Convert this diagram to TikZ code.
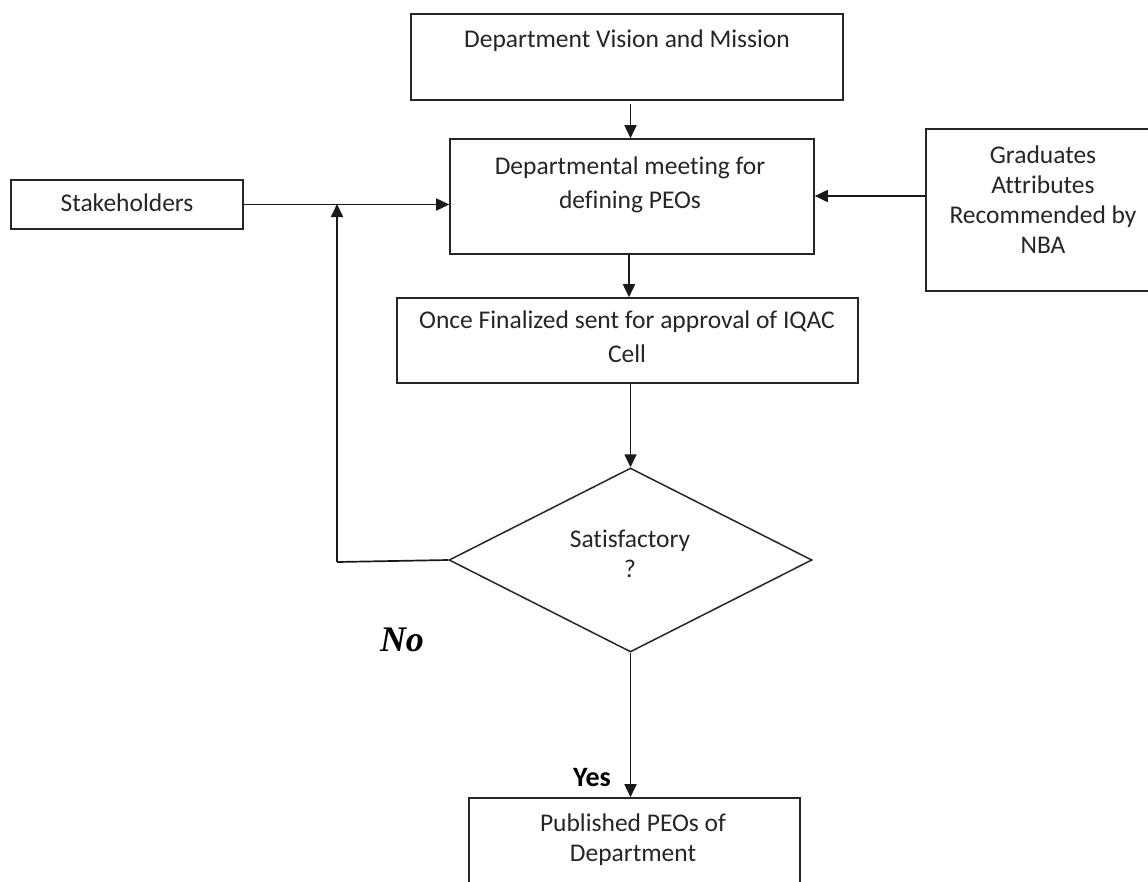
\documentclass[tikz,border=0pt]{standalone}
\usepackage{fontspec}
\setmainfont[Ligatures={NoCommon}]{Carlito}
\newfontfamily\noserif{Liberation Serif}
\usetikzlibrary{arrows.meta,shapes.geometric}
\tikzset{
  box/.style={draw=black!85, line width=1.6pt, rectangle, inner sep=0pt},
  lbl/.style={font=\fontsize{25.5}{30}\selectfont, align=center, text=black!85},
  lblw/.style={font=\fontsize{25.5}{34}\selectfont, align=center, text=black!85},
  conn/.style={line width=1.7pt, draw=black!90, -{Triangle[length=13pt,width=12pt]}},
  plain/.style={line width=1.7pt, draw=black!90},
}
\begin{document}
\begin{tikzpicture}[x=1pt,y=-1pt]
\clip (0,0) rectangle (1148,881);
\fill[white] (0,0) rectangle (1148,881);
% boxes
\node[box, minimum width=432pt, minimum height=86pt] (vision) at (627,57) {};
\node[lbl] at (627,41) {Department Vision and Mission};
\node[box, minimum width=364pt, minimum height=115pt] (meet) at (632,196.5) {};
\node[lblw] at (630,185) {Departmental meeting for\\defining PEOs};
\node[box, minimum width=232pt, minimum height=49pt] (stake) at (127,204.5) {};
\node[lbl] at (127,203) {Stakeholders};
\node[box, minimum width=240pt, minimum height=162pt] (grad) at (1046,210) {};
\node[lbl] at (1043,200) {Graduates\\Attributes\\Recommended by\\NBA};
\node[box, minimum width=461pt, minimum height=85pt] (once) at (627.5,340.5) {};
\node[lblw] at (627,337) {Once Finalized sent for approval of IQAC\\Cell};
\node[draw=black!85, line width=1.5pt, diamond, aspect=1.973, minimum width=363pt, minimum height=184pt, inner sep=0pt] (sat) at (630.5,560) {};
\node[lbl] at (630,553.5) {Satisfactory\\?};
\node[box, minimum width=331pt, minimum height=120pt] (pub) at (634.5,858) {};
\node[lbl] at (633,839.5) {Published PEOs of\\Department};
% labels
\node[font=\noserif\itshape\bfseries\fontsize{36}{38}\selectfont] (no) at (402,640) {No};
\node[font=\bfseries\fontsize{28}{30}\selectfont] (yes) at (592,778) {Yes};
% connectors
\coordinate (turn) at (337,562);
\coordinate (join) at (337,204);
\draw[conn] ([yshift=-3pt]vision.south -| sat.north) -- (meet.north -| sat.north);
\draw[conn] (meet.south -| 629,0) -- (once.north -| 629,0);
\draw[conn] (once.south -| sat.north) -- (sat.north);
\draw[conn] (sat.south) -- (pub.north -| sat.south);
\draw[conn] (stake.east) -- (meet.west |- stake.east);
\draw[conn] (grad.west |- 0,196) -- (meet.east |- 0,196);
\draw[plain] (sat.west) -- (turn);
\draw[conn] (turn) -- (join);
\end{tikzpicture}
\end{document}
